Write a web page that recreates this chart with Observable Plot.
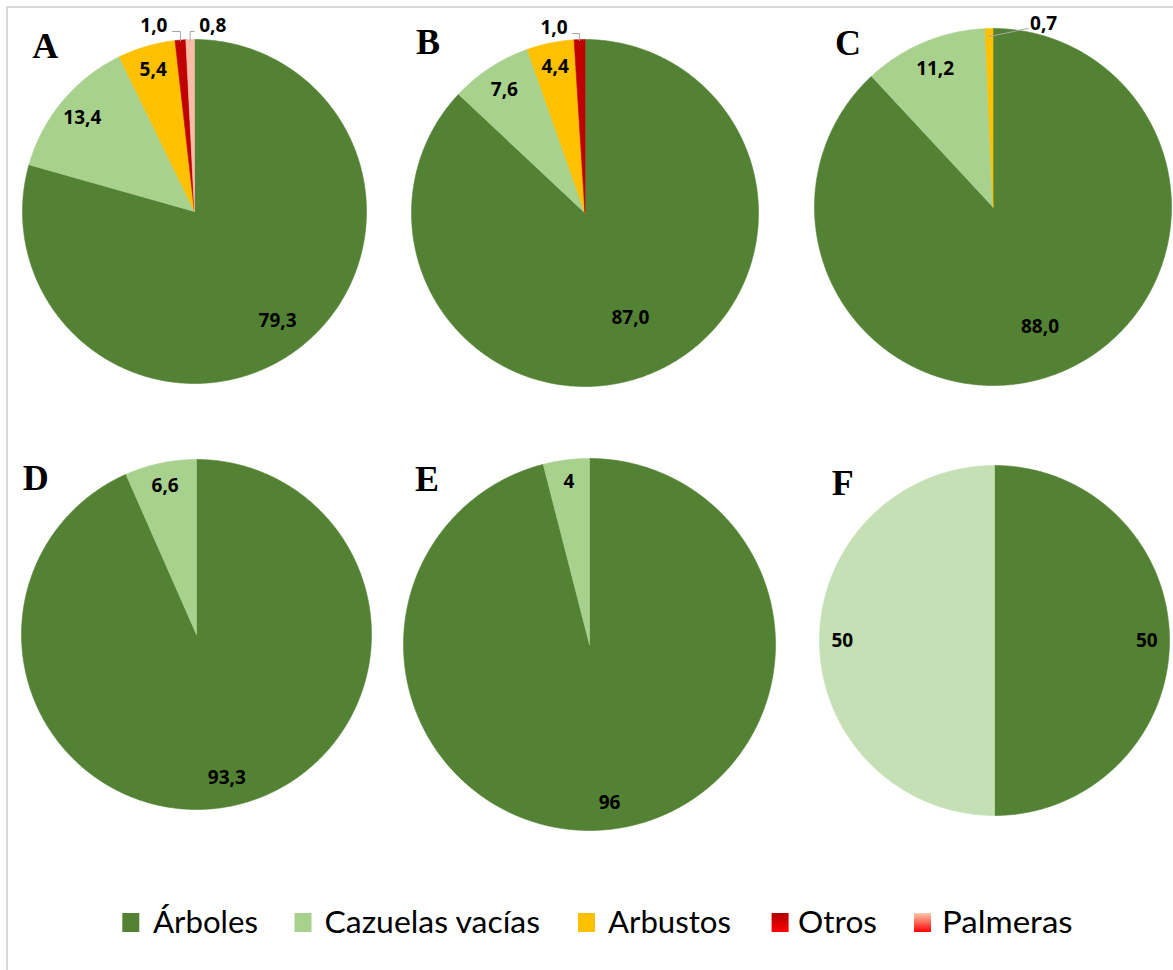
<!DOCTYPE html>
<html><head><meta charset="utf-8">
<script src="https://cdn.jsdelivr.net/npm/d3@7"></script>
<script src="https://cdn.jsdelivr.net/npm/@observablehq/plot@0.6"></script>
<style>
body{margin:0;background:#fff;}
#page{position:relative;width:1173px;height:970px;overflow:hidden;background:#fff;}
#frame{position:absolute;left:6px;top:6px;width:1300px;height:1100px;border:2px solid #d9d9d9;box-sizing:border-box;}
.panel{position:absolute;}
.panel svg{overflow:visible;max-width:none !important;}
#overlay{position:absolute;left:0;top:0;pointer-events:none;}
</style></head><body><div id="page"><div id="frame"></div></div>
<script>
// ---------- data ----------
const panelIds = ["A", "B", "C", "D", "E", "F"];
const categories = ["Árboles", "Cazuelas vacías", "Arbustos", "Otros", "Palmeras"];
const valuesA = [79.3, 13.4, 5.4, 1.0, 0.8];
const valuesB = [87.0, 7.6, 4.4, 1.0];
const valuesC = [88.0, 11.2, 0.7];
const valuesD = [93.3, 6.6];
const valuesE = [96, 4];
const valuesF = [50, 50];
const decimals = [1, 1, 1, 1, 0, 0];

// ---------- style / layout ----------
const catColors = {"Árboles": "#548235", "Cazuelas vacías": "#A9D18E", "Arbustos": "#FFC000", "Otros": "#C00000", "Palmeras": "#F8BDA7"};
const panelColorOverride = {F: {"Cazuelas vacías": "#C5E0B4"}};
const geom = {
  A: {cx: 193.7, cy: 210.7, r: 172, letter: [32.3, 58.3]},
  B: {cx: 584.3, cy: 212.5, r: 173.5, letter: [416, 54]},
  C: {cx: 992.7, cy: 206.7, r: 178.5, letter: [835, 55]},
  D: {cx: 195.7, cy: 634, r: 175, letter: [22.7, 490]},
  E: {cx: 589.2, cy: 643.5, r: 186, letter: [415, 490.7]},
  F: {cx: 994.3, cy: 640, r: 175, letter: [831.7, 495]}
};
const labelRadius = {A: [0.8, 0.85, 0.86], B: [0.66, 0.85, 0.86], C: [0.72, 0.84], D: [0.84, 0.87], E: [0.86, 0.88], F: [0.87, 0.87]};
const outsideLabels = {
  A: {3: {side: -1, dist: 13, rise: 8}, 4: {side: 1, dist: 9, rise: 8}},
  B: {3: {side: -1, dist: 12, rise: 6}},
  C: {2: {side: 1, dist: 41, rise: -1, diag: true}}
};
const M = 45;
const valuesById = {A: valuesA, B: valuesB, C: valuesC, D: valuesD, E: valuesE, F: valuesF};

const page = document.getElementById("page");
const TAU = Math.PI * 2;
const LABEL_SIZE = 19;

panelIds.forEach((id, pi) => {
  const vals = valuesById[id];
  const g = geom[id];
  const total = d3.sum(vals);
  const fmt = v => d3.format("." + decimals[pi] + "f")(v).replace(".", ",");
  let cum = 0;
  const slices = vals.map((v, i) => {
    const a0 = cum / total * TAU; cum += v; const a1 = cum / total * TAU;
    const cat = categories[i];
    const color = (panelColorOverride[id] && panelColorOverride[id][cat]) || catColors[cat];
    return {cat, v, a0, a1, mid: (a0 + a1) / 2, i, color};
  });
  const pts = slices.flatMap(s => {
    const n = Math.max(2, Math.ceil((s.a1 - s.a0) / (Math.PI / 360)));
    const arr = [{x: 0, y: 0, key: s.cat, color: s.color}];
    for (let k = 0; k <= n; k++) {
      const a = s.a0 + (s.a1 - s.a0) * k / n;
      arr.push({x: Math.sin(a), y: Math.cos(a), key: s.cat, color: s.color});
    }
    arr.push({x: 0, y: 0, key: s.cat, color: s.color});
    return arr;
  });
  const out = outsideLabels[id] || {};
  const inside = slices.filter(s => !out[s.i]).map(s => {
    const k = labelRadius[id][s.i];
    return {x: Math.sin(s.mid) * k, y: Math.cos(s.mid) * k, text: fmt(s.v)};
  });
  const outL = [], outR = [], leaders = [];
  slices.filter(s => out[s.i]).forEach(s => {
    const o = out[s.i];
    const ax = Math.sin(s.mid), ay = Math.cos(s.mid);
    const yb = 1 + o.rise / g.r;
    const lx = ax + o.side * o.dist / g.r;
    (o.side < 0 ? outL : outR).push({x: lx, y: yb, text: fmt(s.v)});
    if (o.diag) {
      leaders.push({x: ax * (1 - 8 / g.r), y: ay * (1 - 8 / g.r), key: s.cat});
      leaders.push({x: lx - o.side * 2 / g.r, y: yb + 1 / g.r, key: s.cat});
    } else {
      leaders.push({x: ax, y: ay * (1 - 1 / g.r), key: s.cat});
      leaders.push({x: ax, y: yb, key: s.cat});
      leaders.push({x: lx - o.side * 5 / g.r, y: yb, key: s.cat});
    }
  });
  const size = 2 * g.r + 2 * M;
  const chart = Plot.plot({
    width: size, height: size,
    marginLeft: M, marginRight: M, marginTop: M, marginBottom: M,
    x: {domain: [-1, 1], axis: null},
    y: {domain: [-1, 1], axis: null},
    color: {type: "identity"},
    style: {fontFamily: "'Open Sans', sans-serif", background: "transparent", overflow: "visible", maxWidth: "none"},
    marks: [
      Plot.line(pts, {x: "x", y: "y", z: "key", fill: "color", stroke: "color", strokeWidth: 0.6, curve: "linear"}),
      Plot.line(leaders, {x: "x", y: "y", z: "key", stroke: "#A6A6A6", strokeWidth: 1}),
      Plot.text(inside, {x: "x", y: "y", text: "text", fontSize: LABEL_SIZE, fontWeight: "bold", fill: "#000"}),
      Plot.text(outL, {x: "x", y: "y", text: "text", fontSize: LABEL_SIZE, fontWeight: "bold", fill: "#000", textAnchor: "end", lineAnchor: "bottom"}),
      Plot.text(outR, {x: "x", y: "y", text: "text", fontSize: LABEL_SIZE, fontWeight: "bold", fill: "#000", textAnchor: "start", lineAnchor: "bottom"})
    ]
  });
  const div = document.createElement("div");
  div.className = "panel";
  div.style.left = (g.cx - g.r - M) + "px";
  div.style.top = (g.cy - g.r - M) + "px";
  div.style.width = size + "px";
  div.style.height = size + "px";
  div.appendChild(chart);
  page.appendChild(div);
});

// ---------- overlay: panel letters + legend ----------
const legendItems = categories;
const legendX = [122.3, 294.5, 578, 771.6, 914];
const legendTextX = [153, 324.5, 608, 798, 942];
const legendTextW = [105, 215.5, 123, 79, 130.6];
const ov = d3.select(page).append("svg").attr("id", "overlay").attr("width", 1173).attr("height", 970);
const defs = ov.append("defs");
const grads = {
  "Otros": ["#B00000", "#FF0000"],
  "Palmeras": ["#F8CBAD", "#FF0000"]
};
const gradIds = {};
Object.entries(grads).forEach(([k, [c0, c1]], j) => {
  const lg = defs.append("linearGradient").attr("id", "g" + j).attr("x1", 0).attr("y1", 0).attr("x2", 0).attr("y2", 1);
  lg.append("stop").attr("offset", "0%").attr("stop-color", c0);
  lg.append("stop").attr("offset", "100%").attr("stop-color", c1);
  gradIds[k] = "g" + j;
});
panelIds.forEach(id => {
  const [lx, ly] = geom[id].letter;
  ov.append("text").attr("x", lx).attr("y", ly).text(id)
    .attr("font-family", "'Liberation Serif', serif").attr("font-weight", "bold").attr("font-size", 36).attr("fill", "#000");
});
legendItems.forEach((cat, i) => {
  const fill = gradIds[cat] ? `url(#${gradIds[cat]})` : catColors[cat];
  ov.append("rect").attr("x", legendX[i]).attr("y", 913).attr("width", 17).attr("height", 19).attr("fill", fill);
  ov.append("text").attr("x", legendTextX[i]).attr("y", 933).text(cat)
    .attr("font-family", "Lato, sans-serif").attr("font-size", 31).attr("fill", "#000")
    .attr("textLength", legendTextW[i]).attr("lengthAdjust", "spacingAndGlyphs");
});
</script></body></html>
